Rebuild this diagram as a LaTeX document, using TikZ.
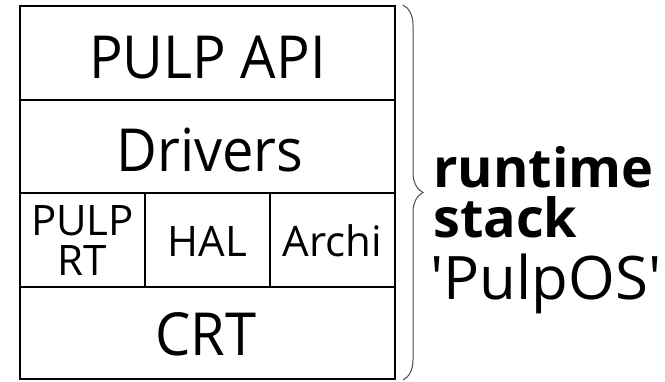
\documentclass[tikz,border=0pt]{standalone}
\usepackage{fontspec}
\setmainfont{Open Sans}[Ligatures=TeXOff]
\usetikzlibrary{decorations.pathreplacing}
\begin{document}
\begin{tikzpicture}[x=1pt,y=-1pt,
  frame/.style={line width=1.8pt,draw=black},
  big/.style={font=\fontsize{56}{58}\selectfont,inner sep=0pt,yscale=1.06},
  mid/.style={font=\fontsize{42}{40}\selectfont,inner sep=0pt,align=center},
  side/.style={font=\fontsize{60}{54}\selectfont,inner sep=0pt,anchor=base west},
  sideb/.style={font=\fontsize{54}{54}\selectfont\bfseries,inner sep=0pt,anchor=base west}]
\useasboundingbox (0,0) rectangle (665,381);
% outer frame and rows
\coordinate (tl) at (20,6);
\coordinate (br) at (395,379);
\draw[frame] (tl) rectangle (br);
\draw[frame] (20,100) -- (395,100);
\draw[frame] (20,193) -- (395,193);
\draw[frame] (20,287) -- (395,287);
\draw[frame] (145,193) -- (145,287);
\draw[frame] (270,193) -- (270,287);
% labels
\node[big] (api) at (207.5,58) {PULP API};
\node[big] (drv) at (210,150) {Drivers};
\node[mid] (rt) at (82.5,241) {PULP\\RT};
\node[mid] (hal) at (207.5,241) {HAL};
\node[mid] (arc) at (332.5,241) {Archi};
\node[big] (crt) at (206,334) {CRT};
% brace
\coordinate (bt) at (403,5);
\coordinate (bb) at (403,380);
\draw[decorate,decoration={brace,amplitude=20pt},line width=1pt,draw=black!70] (bt) -- (bb);
% side text
\node[sideb] (l1) at (433,187) {runtime};
\node[sideb] (l2) at (433,237) {stack};
\node[side] (l3) at (430,299) {'PulpOS'};
\end{tikzpicture}
\end{document}
